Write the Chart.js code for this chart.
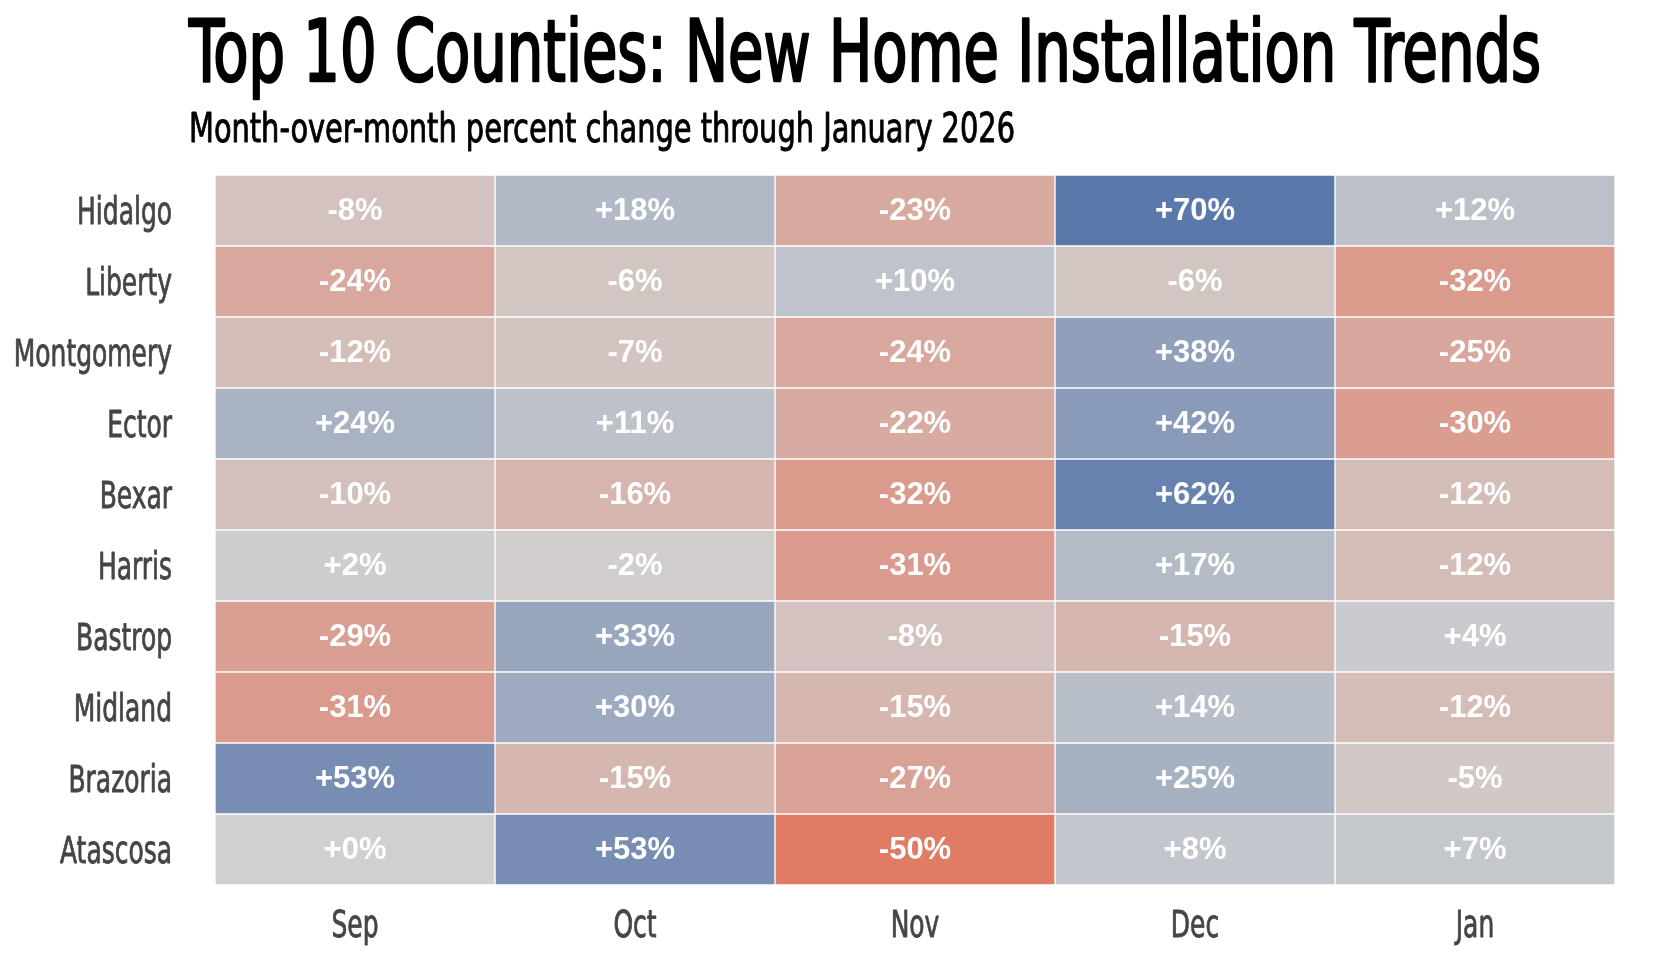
<!DOCTYPE html>
<html>
<head>
<meta charset="utf-8">
<script src="https://cdn.jsdelivr.net/npm/chart.js@4.4.1/dist/chart.umd.min.js"></script>
<style>
html, body { margin: 0; padding: 0; background: #ffffff; }
#wrap { width: 1660px; height: 960px; position: relative; }
</style>
</head>
<body>
<div id="wrap"><canvas id="c" width="1660" height="960" style="width:1660px;height:960px"></canvas></div>
<script>
const TITLE = 'Top 10 Counties: New Home Installation Trends';
const SUBTITLE = 'Month-over-month percent change through January 2026';

const counties = ['Hidalgo', 'Liberty', 'Montgomery', 'Ector', 'Bexar', 'Harris', 'Bastrop', 'Midland', 'Brazoria', 'Atascosa'];
const months = ['Sep', 'Oct', 'Nov', 'Dec', 'Jan'];

const sepChange = [-8, -24, -12, 24, -10, 2, -29, -31, 53, 0];
const octChange = [18, -6, -7, 11, -16, -2, 33, 30, -15, 53];
const novChange = [-23, 10, -24, -22, -32, -31, -8, -15, -27, -50];
const decChange = [70, -6, 38, 42, 62, 17, -15, 14, 25, 8];
const janChange = [12, -32, -25, -30, -12, -12, 4, -12, -5, 7];

const monthValues = [sepChange, octChange, novChange, decChange, janChange];

const NARROW = '"Liberation Sans Narrow", "DejaVu Sans Condensed", "Arial Narrow", sans-serif';
const BOLDFONT = '"Liberation Sans", Arial, sans-serif';
const AXIS_FONT = '37px ' + NARROW;
const AXIS_COLOR = '#454545';
const AXIS_SQUEEZE = 0.75;

const allVals = monthValues.flat();
const vMin = Math.min(...allVals);
const vMax = Math.max(...allVals);
const NEUTRAL = [208, 208, 208];
const RED = [224, 123, 102];
const BLUE = [90, 120, 170];
function colorFor(v) {
  let t, end;
  if (v < 0) { t = v / vMin; end = RED; } else { t = vMax ? v / vMax : 0; end = BLUE; }
  const c = NEUTRAL.map((n, i) => Math.round(n + (end[i] - n) * t));
  return `rgb(${c[0]},${c[1]},${c[2]})`;
}
function fmt(v) { return (v >= 0 ? '+' : '') + v + '%'; }

function drawSqueezed(ctx, text, x, y, font, sx, color, align, stroke) {
  ctx.save();
  ctx.font = font;
  ctx.translate(x, y);
  ctx.scale(sx, 1);
  ctx.fillStyle = color;
  ctx.strokeStyle = color;
  ctx.lineJoin = 'round';
  ctx.textAlign = align;
  ctx.textBaseline = 'alphabetic';
  ctx.fillText(text, 0, 0);
  if (stroke) { ctx.lineWidth = stroke; ctx.strokeText(text, 0, 0); }
  ctx.restore();
}
function drawFitted(ctx, text, x, y, font, width, color, stroke) {
  ctx.save();
  ctx.font = font;
  const w = ctx.measureText(text).width;
  ctx.restore();
  drawSqueezed(ctx, text, x, y, font, w > 0 ? width / w : 1, color, 'left', stroke);
}

const titlesPlugin = {
  id: 'titles',
  afterDraw(chart) {
    const ctx = chart.ctx;
    drawFitted(ctx, TITLE, 189, 81, '86px ' + NARROW, 1352, '#000000', 2.6);
    drawFitted(ctx, SUBTITLE, 189, 142, '40px ' + NARROW, 826, '#000000', 0.9);
  }
};

const axisLabelPlugin = {
  id: 'axisLabels',
  afterDraw(chart) {
    const ctx = chart.ctx;
    const ys = chart.scales.y;
    const xs = chart.scales.x;
    ys.ticks.forEach((t, i) => {
      const py = ys.getPixelForTick(i);
      drawSqueezed(ctx, ys.getLabelForValue(t.value), ys.right - 43, py + 13.5, AXIS_FONT, AXIS_SQUEEZE, AXIS_COLOR, 'right', 0.8);
    });
    xs.ticks.forEach((t, i) => {
      const px = xs.getPixelForValue(t.value);
      drawSqueezed(ctx, months[Math.floor(t.value)], px, xs.top + 52, AXIS_FONT, AXIS_SQUEEZE, AXIS_COLOR, 'center', 0.8);
    });
  }
};

const cellLabelPlugin = {
  id: 'cellLabels',
  afterDatasetsDraw(chart) {
    const ctx = chart.ctx;
    ctx.save();
    ctx.font = 'bold 31px ' + BOLDFONT;
    ctx.fillStyle = '#ffffff';
    ctx.textAlign = 'center';
    ctx.textBaseline = 'middle';
    chart.data.datasets.forEach((ds, i) => {
      const meta = chart.getDatasetMeta(i);
      meta.data.forEach((el, j) => {
        const p = el.getCenterPoint();
        ctx.fillText(fmt(ds.values[j]), p.x, p.y + 1);
      });
    });
    ctx.restore();
  }
};

const datasets = months.map((m, k) => ({
  label: m,
  data: counties.map(() => 1),
  values: monthValues[k],
  backgroundColor: monthValues[k].map(colorFor),
  borderColor: '#ffffff',
  borderWidth: 1,
  borderSkipped: false,
  barPercentage: 1,
  categoryPercentage: 1
}));

new Chart(document.getElementById('c'), {
  type: 'bar',
  data: { labels: counties, datasets },
  plugins: [titlesPlugin, cellLabelPlugin, axisLabelPlugin],
  options: {
    indexAxis: 'y',
    responsive: false,
    animation: false,
    devicePixelRatio: 1,
    layout: { padding: { top: 175, right: 45, bottom: 0, left: 0 } },
    plugins: { legend: { display: false }, tooltip: { enabled: false }, title: { display: false } },
    scales: {
      x: {
        type: 'linear',
        position: 'bottom',
        stacked: true,
        min: 0,
        max: months.length,
        grid: { display: false, drawTicks: false },
        border: { display: false },
        afterBuildTicks: (s) => { s.ticks = months.map((m, i) => ({ value: i + 0.5 })); },
        afterFit: (s) => { s.height = 75; },
        ticks: { display: false, autoSkip: false, callback: (v) => months[Math.floor(v)] }
      },
      y: {
        type: 'category',
        stacked: true,
        grid: { display: false, drawTicks: false },
        border: { display: false },
        afterFit: (s) => { s.width = 215; },
        ticks: { display: false }
      }
    }
  }
});
</script>
</body>
</html>
